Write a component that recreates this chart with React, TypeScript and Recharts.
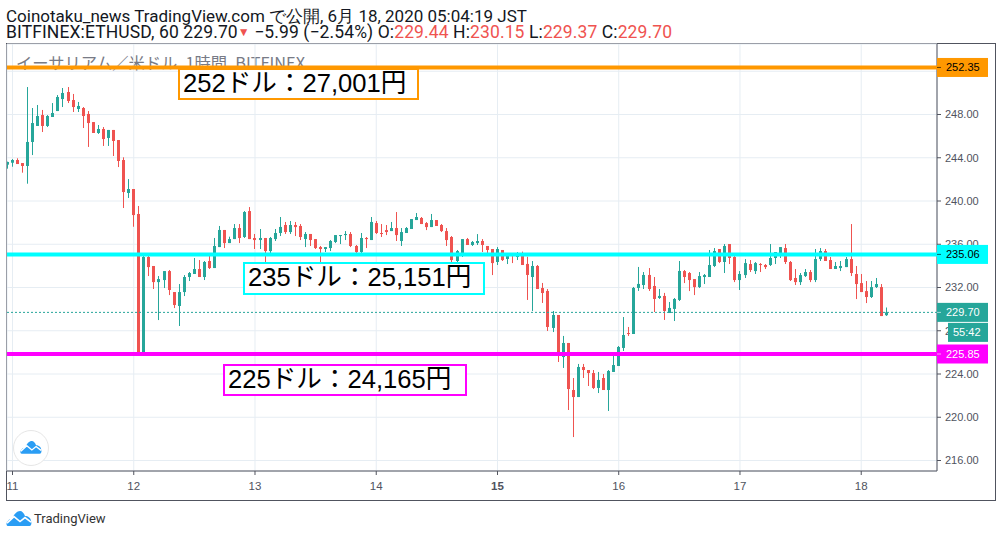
import React from "react";
import { ComposedChart, Bar, XAxis, YAxis, CartesianGrid, ReferenceLine } from "recharts";

// hourly candles: first candle is one hour before the "11" tick
const FIRST_HOUR = -1;
const opens = [
  243.36,243.54,243.79,243.51,243.24,245.46,246.94,247.95,246.94,247.77,
  248.32,249.43,250.08,249.34,248.51,248.6,248.05,247.3,246.29,246.66,
  245.83,246.57,245.64,243.79,240.74,241.11,238.8,225.9,234.82,233.99,
  232.5,232.69,233.52,231.58,230.29,231.58,232.97,233.25,233.71,232.97,
  234.45,233.8,235.74,237.32,236.11,236.48,237.5,236.67,239.07,236.58,
  236.39,236.58,235.37,236.48,237.04,237.78,237.13,237.78,237.69,236.48,
  236.95,236.48,235.74,235.56,235.65,236.21,236.85,236.85,236.95,235.84,
  235.28,236.58,236.39,237.96,237.04,237.31,237.22,237.5,236.3,237.04,
  237.41,238.24,238.43,237.96,237.59,238.24,237.78,237.22,236.67,234.45,
  235.19,236.48,235.93,236.11,236.3,235.84,235.56,234.36,235.47,234.64,
  235.0,234.82,235.16,234.18,232.97,233.99,231.95,231.68,228.26,229.46,
  225.57,226.87,222.52,221.87,224.65,224.37,224.09,222.71,223.63,222.52,
  224.19,224.74,226.41,227.79,227.7,231.96,232.23,233.16,232.14,231.03,
  231.22,229.64,230.02,230.85,233.52,233.34,232.78,232.04,232.97,232.97,
  233.99,235.56,234.36,236.02,234.82,232.69,233.15,234.17,233.52,234.17,
  234.08,234.08,234.73,235.19,235.65,234.36,232.88,232.5,233.06,233.43,
  232.69,234.63,235.37,234.54,233.71,233.8,233.89,234.63,233.25,232.41,
  231.67,231.12,232.04,232.04,229.44,
];
const closes = [
  243.61,243.79,243.42,243.24,245.46,247.21,247.86,246.94,247.86,248.14,
  249.62,249.99,249.25,248.69,248.79,247.86,247.21,246.29,246.66,245.73,
  246.57,245.55,243.7,240.83,241.11,238.7,225.9,234.82,233.89,232.5,
  232.78,233.52,231.77,230.38,231.58,232.97,233.34,233.71,232.97,234.36,
  233.8,235.84,237.32,236.11,236.48,237.5,236.58,238.98,236.48,236.39,
  236.58,235.37,236.58,237.04,237.6,237.13,237.78,237.59,236.67,236.95,
  236.39,235.65,235.56,235.74,236.3,236.85,236.85,236.95,235.84,235.28,
  236.58,236.48,238.06,237.04,236.95,237.13,237.5,236.85,237.13,237.5,
  238.33,238.52,237.87,237.59,238.24,237.69,237.22,236.39,234.54,235.37,
  236.48,235.93,236.21,236.3,235.93,235.47,234.26,235.56,234.54,235.0,
  234.91,235.19,234.08,233.16,233.99,231.86,231.49,228.35,229.46,225.67,
  226.87,222.61,221.87,224.65,224.37,224.09,222.71,223.45,222.52,224.28,
  224.83,226.5,227.61,227.7,231.96,232.33,233.16,231.86,230.94,231.22,
  229.83,230.11,230.94,233.53,232.97,232.69,232.04,233.06,233.15,234.08,
  235.37,234.36,235.84,234.73,232.69,233.25,234.26,233.62,234.26,234.08,
  233.89,234.73,235.28,235.74,234.36,232.69,232.5,233.15,233.43,232.69,
  234.63,235.37,234.45,233.71,233.99,233.99,234.63,233.34,232.32,231.58,
  231.12,232.04,232.32,229.36,229.7,
];
const highs = [
  243.64,243.88,243.95,243.51,250.54,248.6,248.88,248.42,247.95,249.06,
  249.8,250.45,250.54,249.9,249.16,248.69,248.32,247.3,247.03,246.84,
  246.57,246.57,245.64,244.04,242.03,241.11,239.54,235.16,235.06,233.99,
  233.06,233.52,233.62,231.58,232.32,233.15,233.43,234.73,234.54,234.45,
  235.0,236.58,237.69,237.32,236.7,237.87,237.87,239.07,239.44,236.95,
  237.41,236.58,236.67,237.41,238.52,238.06,238.15,238.06,237.87,237.13,
  236.95,236.48,235.84,235.74,236.39,236.85,236.85,237.22,237.13,235.93,
  237.04,236.67,238.52,238.15,237.87,237.78,238.06,238.98,237.5,237.59,
  238.33,238.89,238.52,238.05,238.8,238.24,237.87,237.5,236.76,235.47,
  236.48,236.58,236.3,236.94,236.48,235.84,235.56,235.74,235.47,235.19,
  235.19,235.28,235.32,234.85,234.45,234.08,232.42,231.86,229.83,229.46,
  227.52,226.87,223.63,224.93,224.93,224.37,224.37,224.19,224.0,224.37,
  225.76,226.59,229.27,228.35,232.05,233.9,233.43,233.8,232.97,231.86,
  231.5,230.66,231.03,234.45,233.62,233.43,232.78,233.43,233.25,235.47,
  235.65,235.56,236.02,236.02,234.91,233.52,234.63,234.54,234.36,234.26,
  234.17,236.02,235.28,235.74,236.02,234.45,233.71,233.34,233.71,233.62,
  235.56,235.65,235.56,234.82,234.36,234.45,234.82,237.87,233.99,233.25,
  232.6,232.6,232.88,232.32,230.15,
];
const lows = [
  242.99,243.17,243.42,242.62,241.6,244.25,246.94,246.38,246.84,247.77,
  248.32,248.69,249.06,248.23,248.23,246.75,245.0,246.29,246.2,245.09,
  245.09,244.16,243.14,239.35,240.28,237.62,225.85,225.85,233.06,231.86,
  228.99,231.95,231.3,230.1,228.44,231.21,232.6,233.25,232.97,232.69,
  233.71,233.8,235.74,235.65,236.11,236.48,236.11,236.58,236.48,235.56,
  235.56,234.36,235.19,236.3,236.76,236.95,236.95,236.76,236.39,235.74,
  235.84,235.56,233.92,235.28,235.37,236.11,236.02,236.39,235.74,235.0,
  235.19,235.65,236.39,236.95,236.67,236.85,237.22,236.3,235.84,237.04,
  237.41,238.24,237.87,237.31,237.59,237.69,237.13,235.84,233.71,233.99,
  234.82,235.93,235.84,235.93,235.28,235.0,233.15,234.08,234.45,234.17,
  234.26,234.54,234.08,230.85,229.83,231.86,230.57,227.98,227.88,225.11,
  224.56,220.67,218.17,221.87,223.63,222.89,222.61,222.24,222.52,220.58,
  224.19,224.74,226.13,227.52,227.7,231.68,231.86,231.68,229.73,230.94,
  229.0,229.64,228.9,230.75,232.41,231.67,231.3,231.95,232.32,232.97,
  233.89,234.26,233.34,234.17,232.5,231.77,232.88,233.43,233.25,233.43,
  233.71,233.99,234.17,234.73,234.17,232.6,232.23,232.23,232.97,232.5,
  232.5,234.45,234.45,233.71,233.71,233.52,233.89,233.06,230.93,231.58,
  230.56,231.03,231.95,229.36,229.37,
];
const dayTicks = [0, 24, 48, 72, 96, 120, 144, 168];
const dayLabels = ["11", "12", "13", "14", "15", "16", "17", "18"];
const priceTicks = [216, 220, 224, 228, 232, 236, 240, 244, 248, 252];
const LEVEL_HIGH = 252.35;
const LEVEL_MID = 235.06;
const LEVEL_LOW = 225.85;
const LAST_PRICE = 229.7;
const COUNTDOWN = "55:42";
const notes = [
  { text: "252ドル：27,001円", color: "#ff9800", left: 178, top: 68, width: 241, height: 32 },
  { text: "235ドル：25,151円", color: "#00ffff", left: 243, top: 262, width: 242, height: 33 },
  { text: "225ドル：24,165円", color: "#ff00ff", left: 223, top: 364, width: 244, height: 32 },
];

const GREEN = "#26a69a";
const RED = "#ef5350";
const AXIS = "#50535e";
const GRID = "#e6edf3";
const SANS = "'Liberation Sans', Arial, sans-serif";
const X_DOMAIN = [-1.09, 183.0];
const Y_DOMAIN = [215.03, 254.52];

const candles = opens.map((open, i) => ({
  hour: FIRST_HOUR + i,
  open,
  close: closes[i],
  high: highs[i],
  low: lows[i],
}));

function Candle(props: any) {
  const { x, y, width, height, payload } = props;
  const { open, close, high, low } = payload;
  const up = close >= open;
  const color = up ? GREEN : RED;
  const span = high - low || 1;
  const at = (v: number) => y + ((high - v) / span) * height;
  const top = at(Math.max(open, close));
  const bottom = at(Math.min(open, close));
  const cx = Math.round(x + width / 2 - 0.5) + 0.5;
  return (
    <g>
      <line x1={cx} x2={cx} y1={y} y2={y + height} stroke={color} strokeWidth={1} />
      <rect x={cx - 1.5} y={top} width={3} height={Math.max(bottom - top, 1)} fill={color} />
    </g>
  );
}

function PriceTag(props: any) {
  const { viewBox, text, fill, color, tagX = 0, tagW = 51, dy = 0 } = props;
  const x = viewBox.x + viewBox.width + tagX;
  const y = viewBox.y + dy;
  return (
    <g>
      <rect x={x} y={y - 9.5} width={tagW} height={19} fill={fill} />
      {tagX === 0 && <line x1={x} x2={x + 4} y1={y} y2={y} stroke={color} strokeWidth={1} opacity={0.6} />}
      <text x={tagX ? x + 5 : x + 9} y={y + 4} fontSize={11} fontFamily={SANS} fill={color}>
        {text}
      </text>
    </g>
  );
}

function DayTick(props: any) {
  const { x, y, payload } = props;
  const label = dayLabels[dayTicks.indexOf(payload.value)];
  return (
    <text
      x={x}
      y={y + 13}
      textAnchor="middle"
      fontSize={11.5}
      fontFamily={SANS}
      fontWeight={label === "15" ? 700 : 400}
      fill={AXIS}
    >
      {label}
    </text>
  );
}

function Cloud({ size, style }: { size: number; style: React.CSSProperties }) {
  return (
    <svg width={size} height={size * 0.58} viewBox="0 0 26 15" style={style}>
      <path
        d="M2 15 C0 15 0 11 2 10 C3 8 5 8 6 8 C8 3 11 0 14 0 C16 0 18 2 19 5 C22 5 25 7 25 10 C26 13 25 15 23 15 Z"
        fill="#2a9df4"
      />
      <path d="M1 12 L8 5.5 L14 10.5 L19 6.5 L25 11" fill="none" stroke="#fff" strokeWidth={1.6} />
    </svg>
  );
}

export default function App() {
  return (
    <div style={{ position: "absolute", left: 0, top: 0, width: 1002, height: 537, background: "#fff", overflow: "hidden" }}>
      <div style={{ position: "absolute", left: 6, top: 8, fontFamily: "Roboto, sans-serif", fontSize: 17, lineHeight: "16px", color: "#131722", whiteSpace: "nowrap" }}>
        Coinotaku_news TradingView.com で公開, 6月 18, 2020 05:04:19 JST
      </div>
      <div style={{ position: "absolute", left: 6, top: 24, fontFamily: "Roboto, sans-serif", fontSize: 17.5, letterSpacing: 0.11, lineHeight: "16px", color: "#131722", whiteSpace: "nowrap" }}>
        BITFINEX:ETHUSD, 60 229.70
        <span style={{ color: RED, fontSize: 12, verticalAlign: 2 }}>▼</span> −5.99 (−2.54%) O:<span style={{ color: RED }}>229.44</span> H:<span style={{ color: RED }}>230.15</span> L:<span style={{ color: RED }}>229.37</span> C:<span style={{ color: RED }}>229.70</span>
      </div>
      <div style={{ position: "absolute", left: 16, top: 51, fontFamily: "'Noto Sans CJK JP', sans-serif", fontSize: 16.3, lineHeight: "22px", color: "#787b86", whiteSpace: "nowrap" }}>
        イーサリアム／米ドル, 1時間, BITFINEX
      </div>

      <div style={{ position: "absolute", left: 6, top: 43, width: 988, height: 456, border: `1px solid ${AXIS}`, boxSizing: "content-box" }} />

      <div style={{ position: "absolute", left: 0, top: 0 }}>
        <ComposedChart
          width={1002}
          height={537}
          data={candles}
          margin={{ left: 7, top: 44, right: 7, bottom: 37 }}
          barSize={3}
        >
          <CartesianGrid stroke={GRID} strokeWidth={1} />
          <XAxis
            dataKey="hour"
            type="number"
            domain={X_DOMAIN}
            ticks={dayTicks}
            allowDataOverflow
            height={29}
            tickSize={4}
            tick={<DayTick />}
            axisLine={{ stroke: AXIS }}
            tickLine={{ stroke: AXIS }}
            interval={0}
          />
          <YAxis
            orientation="right"
            type="number"
            domain={Y_DOMAIN}
            ticks={priceTicks}
            allowDataOverflow
            width={58}
            tickSize={4}
            tickMargin={4}
            tickFormatter={(v: number) => (v === 252 ? "" : v.toFixed(2))}
            tick={{ fontSize: 11, fontFamily: SANS, fill: AXIS, textAnchor: "start" }}
            axisLine={{ stroke: AXIS }}
            tickLine={{ stroke: AXIS }}
            interval={0}
          />
          <Bar
            dataKey={(d: any) => [d.low, d.high]}
            isAnimationActive={false}
            shape={<Candle />}
          />
        </ComposedChart>
      </div>

      <div style={{ position: "absolute", left: 0, top: 0 }}>
        <ComposedChart
          width={1002}
          height={537}
          data={candles}
          margin={{ left: 7, top: 44, right: 65, bottom: 66 }}
        >
          <XAxis dataKey="hour" type="number" domain={X_DOMAIN} allowDataOverflow hide />
          <YAxis type="number" domain={Y_DOMAIN} allowDataOverflow hide />
          <ReferenceLine y={LAST_PRICE} stroke={GREEN} strokeDasharray="2 2" label={<PriceTag text={LAST_PRICE.toFixed(2)} fill={GREEN} color="#fff" />} />
          <ReferenceLine y={LAST_PRICE} stroke="none" label={<PriceTag text={COUNTDOWN} fill={GREEN} color="#fff" tagX={11} tagW={40} dy={20} />} />
          <ReferenceLine y={LEVEL_HIGH} stroke="#ff9800" strokeWidth={4} label={<PriceTag text={LEVEL_HIGH.toFixed(2)} fill="#ff9800" color="#000" />} />
          <ReferenceLine y={LEVEL_MID} stroke="#00ffff" strokeWidth={4} label={<PriceTag text={LEVEL_MID.toFixed(2)} fill="#00ffff" color="#000" />} />
          <ReferenceLine y={LEVEL_LOW} stroke="#ff00ff" strokeWidth={4} label={<PriceTag text={LEVEL_LOW.toFixed(2)} fill="#ff00ff" color="#fff" />} />
        </ComposedChart>
      </div>

      {notes.map((n) => (
        <div
          key={n.text}
          style={{
            position: "absolute",
            left: n.left,
            top: n.top,
            width: n.width,
            height: n.height,
            boxSizing: "border-box",
            border: `2px solid ${n.color}`,
            background: "#fff",
            fontFamily: "'Liberation Sans', 'Noto Sans CJK JP', sans-serif",
            fontSize: 25.6,
            lineHeight: `${n.height - 6}px`,
            paddingLeft: 3,
            color: "#000",
            whiteSpace: "nowrap",
          }}
        >
          {n.text}
        </div>
      ))}

      <div style={{ position: "absolute", left: 13, top: 430, width: 34, height: 34, borderRadius: "50%", border: "1px solid #e6e6e6", background: "#fff" }} />
      <Cloud size={22} style={{ position: "absolute", left: 20, top: 441 }} />
      <Cloud size={26} style={{ position: "absolute", left: 6, top: 511 }} />
      <div style={{ position: "absolute", left: 34, top: 511, fontFamily: "Roboto, sans-serif", fontSize: 13, lineHeight: "16px", color: "#333", whiteSpace: "nowrap" }}>
        TradingView
      </div>
    </div>
  );
}
